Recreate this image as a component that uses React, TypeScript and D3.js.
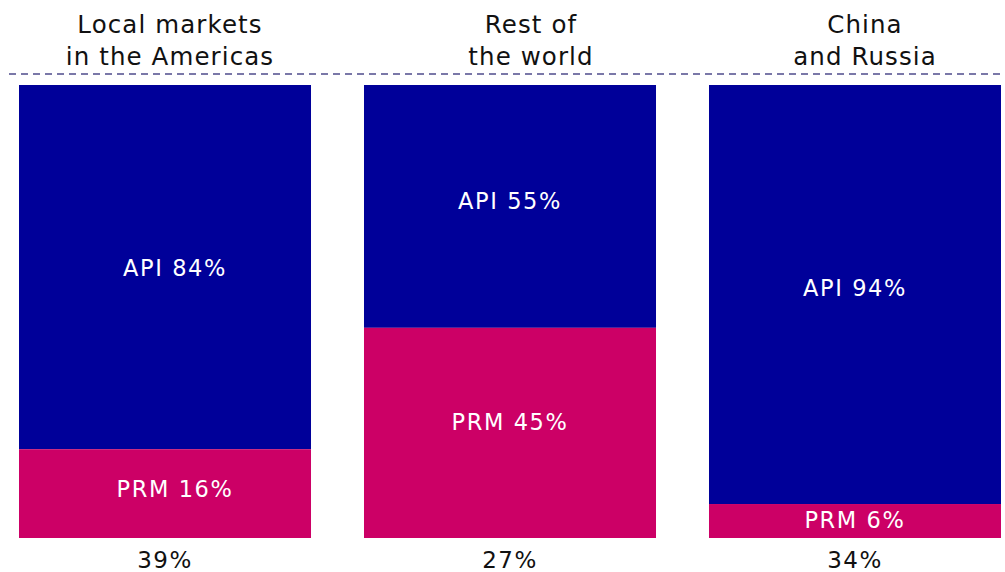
import * as d3 from "d3";

// regions, left to right
const regions = ["americas", "rest", "chinaRussia"];
const titleLines = [
  ["Local markets", "in the Americas"],
  ["Rest of", "the world"],
  ["China", "and Russia"],
];
// share of each bar, bottom segment is PRM
const prmShare = [19.6, 46.4, 7.5];
const apiShare = [80.4, 53.6, 92.5];
const prmLabels = ["PRM 16%", "PRM 45%", "PRM 6%"];
const apiLabels = ["API 84%", "API 55%", "API 94%"];
const totalLabels = ["39%", "27%", "34%"];

const W = 1005;
const H = 572;
const FONT = "'DejaVu Sans', Verdana, sans-serif";
const BLUE = "#000099";
const MAGENTA = "#cc0066";
// small nudges so labels sit where the original put them
const titleShift = [5, 21, 10];
const labelDx = [10, 0, 0];
const apiDy = [1, -5.5, -6.5];
const prmDy = [-4.5, -11, -1];

export default function App() {
  const x = d3.scaleBand().domain(regions).range([19, 1001]).paddingInner(0.1536);
  const y = d3.scaleLinear().domain([0, 100]).range([538, 85]);
  const bw = x.bandwidth();

  return (
    <svg
      width={W}
      height={H}
      style={{ position: "absolute", left: 0, top: 0, background: "#fff" }}
      fontFamily={FONT}
    >
      <line x1={9} x2={W} y1={74} y2={74} stroke="#7a78a8" strokeWidth={2} strokeDasharray="7 5" />
      {regions.map((r, i) => {
        const x0 = x(r)!;
        const cx = x0 + bw / 2;
        const yPrmTop = y(prmShare[i]);
        const yApiTop = y(prmShare[i] + apiShare[i]);
        return (
          <g key={r}>
            {titleLines[i].map((t, j) => (
              <text
                key={j}
                x={cx + titleShift[i]}
                y={33 + j * 32}
                textAnchor="middle"
                fontSize={24.5}
                letterSpacing={1.1}
                fill="#111"
              >
                {t}
              </text>
            ))}
            <rect x={x0} y={yApiTop} width={bw} height={yPrmTop - yApiTop} fill={BLUE} />
            <rect x={x0} y={yPrmTop} width={bw} height={y(0) - yPrmTop} fill={MAGENTA} />
            <text
              x={cx + labelDx[i]}
              y={(yApiTop + yPrmTop) / 2 + apiDy[i]}
              textAnchor="middle"
              dominantBaseline="central"
              fontSize={22.5}
              letterSpacing={1.6}
              fill="#fff"
            >
              {apiLabels[i]}
            </text>
            <text
              x={cx + labelDx[i]}
              y={(yPrmTop + y(0)) / 2 + prmDy[i]}
              textAnchor="middle"
              dominantBaseline="central"
              fontSize={22.5}
              letterSpacing={1.6}
              fill="#fff"
            >
              {prmLabels[i]}
            </text>
            <text
              x={cx}
              y={y(0) + 22}
              textAnchor="middle"
              dominantBaseline="central"
              fontSize={23}
              letterSpacing={1.5}
              fill="#111"
            >
              {totalLabels[i]}
            </text>
          </g>
        );
      })}
    </svg>
  );
}
